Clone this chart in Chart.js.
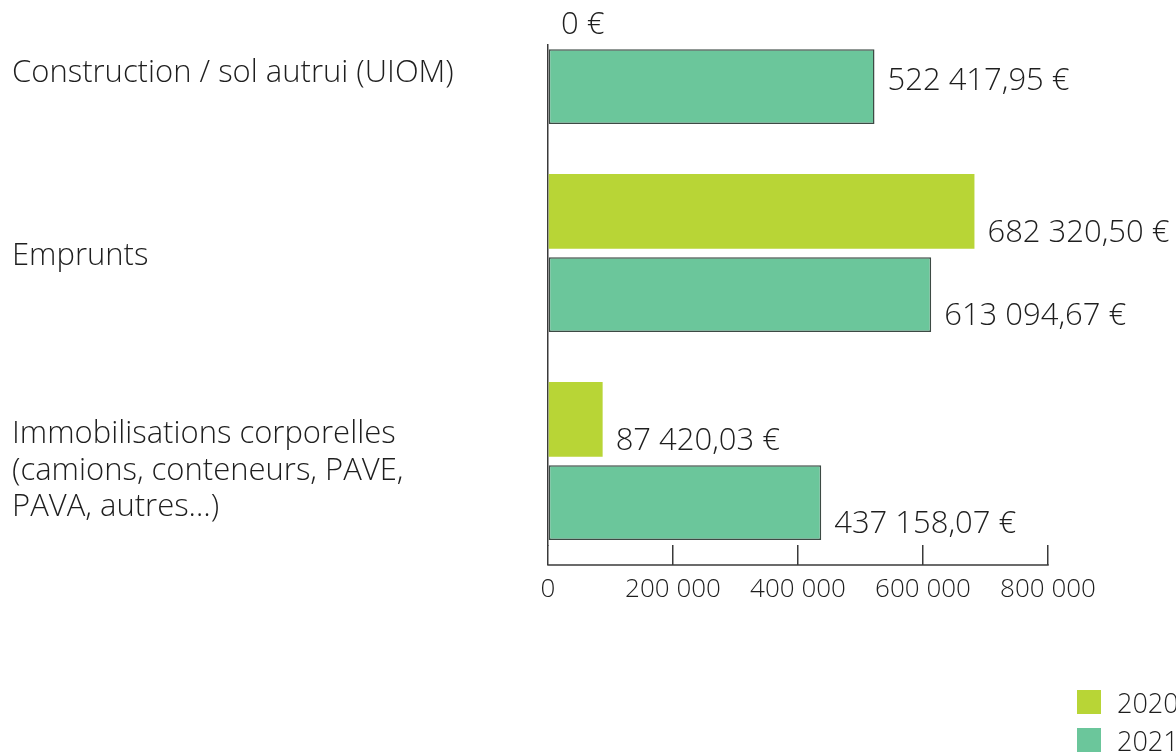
<!DOCTYPE html>
<html>
<head>
<meta charset="utf-8">
<script src="https://cdn.jsdelivr.net/npm/chart.js@4/dist/chart.umd.min.js"></script>
<style>
  html, body { margin: 0; padding: 0; background: #ffffff; }
  #wrap { position: relative; width: 1176px; height: 756px; overflow: hidden; }
  #legend { position: absolute; left: 1077px; top: 683px; font-family: "Open Sans", sans-serif; font-weight: 300; font-size: 27px; color: #1e1e1e; white-space: nowrap; }
  .item { display: flex; align-items: center; height: 38px; }
  .box { width: 24px; height: 24px; margin-right: 16px; flex: none; }
</style>
</head>
<body>
<div id="wrap">
  <canvas id="c" width="1176" height="756"></canvas>
  <div id="legend"></div>
</div>
<script>
const categories = [
  ['Construction / sol autrui (UIOM)'],
  ['Emprunts'],
  ['Immobilisations corporelles', '(camions, conteneurs, PAVE,', 'PAVA, autres…)']
];
const seriesNames = ['2020', '2021'];
const values2020 = [0, 682320.50, 87420.03];
const values2021 = [522417.95, 613094.67, 437158.07];
const xTickValues = [0, 200000, 400000, 600000, 800000];
const xTickLabels = ['0', '200 000', '400 000', '600 000', '800 000'];

const FONT = '"Open Sans", sans-serif';
const TEXT = '#1e1e1e';
const AXIS = '#3a3a3a';

function fmtEuro(v) {
  if (v === 0) return '0 €';
  const parts = v.toFixed(2).split('.');
  const int = parts[0].replace(/\B(?=(\d{3})+(?!\d))/g, ' ');
  return int + ',' + parts[1] + ' €';
}

const toPoints = arr => arr.map((v, i) => ({ x: v, y: i }));

const labelPlugin = {
  id: 'labels',
  afterDraw(chart) {
    const ctx = chart.ctx;
    const yScale = chart.scales.y;
    const xScale = chart.scales.x;
    ctx.save();
    // x-axis baseline under the ticks
    ctx.strokeStyle = AXIS;
    ctx.lineWidth = 1.5;
    ctx.beginPath();
    const by = xScale.top + 20;
    ctx.moveTo(xScale.left - 0.75, by);
    ctx.lineTo(xScale.right + 0.75, by);
    ctx.stroke();

    // category labels
    const catDy = [28, 3, 10];
    ctx.fillStyle = TEXT;
    ctx.font = '300 31px ' + FONT;
    ctx.textAlign = 'left';
    ctx.textBaseline = 'middle';
    const lh = 36.5;
    categories.forEach((lines, i) => {
      const cy = yScale.getPixelForValue(i) + catDy[i];
      const y0 = cy - (lines.length - 1) * lh / 2;
      lines.forEach((t, j) => ctx.fillText(t, 12, y0 + j * lh));
    });

    // value labels
    const dyByDs = [[22, 22, 22], [-5, 22, 22]];
    ctx.font = '300 31px ' + FONT;
    chart.data.datasets.forEach((ds, di) => {
      const meta = chart.getDatasetMeta(di);
      meta.data.forEach((el, i) => {
        ctx.fillText(fmtEuro(ds.data[i].x), el.x + 13, el.y + dyByDs[di][i]);
      });
    });
    ctx.restore();
  }
};

const chart = new Chart(document.getElementById('c'), {
  type: 'bar',
  data: {
    datasets: [
      { label: seriesNames[0], data: toPoints(values2020), backgroundColor: '#b8d536', borderWidth: 0 },
      { label: seriesNames[1], data: toPoints(values2021), backgroundColor: '#6bc69b', borderColor: '#3d4a44', borderWidth: 1.5, borderSkipped: false }
    ]
  },
  options: {
    responsive: false,
    animation: false,
    indexAxis: 'y',
    layout: { padding: { left: 548, right: 128, top: 45, bottom: 151 } },
    plugins: { legend: { display: false }, tooltip: { enabled: false } },
    scales: {
      y: {
        type: 'linear',
        reverse: true,
        offset: false,
        min: 0,
        max: 2.404,
        afterBuildTicks: s => { s.ticks = categories.map((c, i) => ({ value: i })); },
        afterFit: s => { s.width = 0; },
        ticks: { display: false },
        grid: { display: false, drawTicks: false, offset: false },
        border: { display: true, color: AXIS, width: 1.5 }
      },
      x: {
        min: 0,
        max: 800000,
        afterBuildTicks: s => { s.ticks = xTickValues.map(v => ({ value: v })); },
        afterFit: s => { s.height = 60; },
        ticks: {
          padding: 9,
          color: TEXT,
          font: { family: FONT, size: 26, weight: '300' },
          callback: (v, i) => xTickLabels[i]
        },
        grid: { drawOnChartArea: false, drawTicks: true, tickLength: 20, color: AXIS, lineWidth: 1.5 },
        border: { display: false }
      }
    }
  },
  plugins: [labelPlugin]
});

const legend = document.getElementById('legend');
chart.data.datasets.forEach(ds => {
  const item = document.createElement('div');
  item.className = 'item';
  const box = document.createElement('div');
  box.className = 'box';
  box.style.background = ds.backgroundColor;
  const txt = document.createElement('span');
  txt.textContent = ds.label;
  item.appendChild(box);
  item.appendChild(txt);
  legend.appendChild(item);
});
</script>
</body>
</html>
